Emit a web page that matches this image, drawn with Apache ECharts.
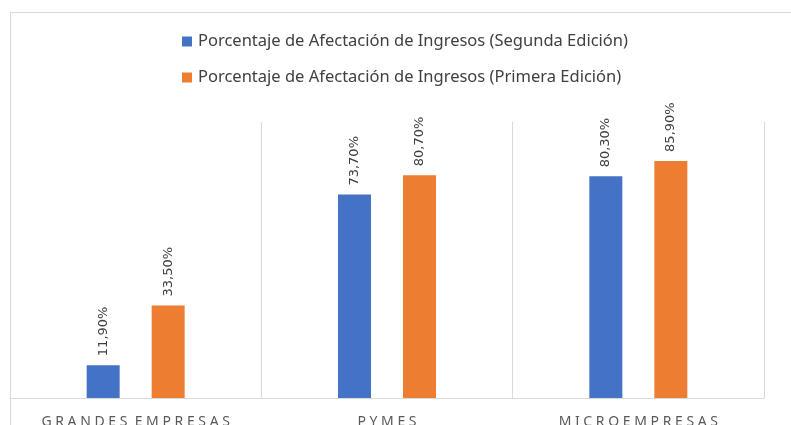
<!DOCTYPE html>
<html>
<head>
<meta charset="utf-8">
<script src="https://cdn.jsdelivr.net/npm/echarts@6/dist/echarts.min.js"></script>
<style>
  html, body { margin: 0; padding: 0; background: #fff; }
  #chart { width: 791px; height: 425px; }
</style>
</head>
<body>
<div id="chart"></div>
<script>
const categories = ['GRANDES EMPRESAS', 'PYMES', 'MICROEMPRESAS'];
const seriesNames = [
    'Porcentaje de Afectación de Ingresos (Segunda Edición)',
    'Porcentaje de Afectación de Ingresos (Primera Edición)'
];
const segundaEdicion = [11.9, 73.7, 80.3];
const primeraEdicion = [33.5, 80.7, 85.9];

const fmtPct = v => v.toFixed(2).replace('.', ',') + '%';
// wide letter spacing like the original axis labels
const spaced = s => s.split(' ').map(w => w.split('').join(' ')).join('  ');

const barLabel = {
    show: true,
    position: 'top',
    rotate: 90,
    align: 'left',
    verticalAlign: 'middle',
    distance: 9,
    color: '#404040',
    fontFamily: 'DejaVu Sans',
    fontSize: 13,
    formatter: p => fmtPct(p.value)
};

const chart = echarts.init(document.getElementById('chart'));
chart.setOption({
    animation: false,
    graphic: [{
        type: 'rect',
        z: -1,
        shape: {x: 10.5, y: 12.5, width: 900, height: 600},
        style: {fill: 'none', stroke: '#d9d9d9', lineWidth: 1}
    }],
    legend: {
        orient: 'vertical',
        left: 182,
        top: 33,
        padding: 0,
        itemWidth: 10,
        itemHeight: 10,
        itemGap: 19,
        icon: 'rect',
        textStyle: {color: '#404040', fontFamily: 'Noto Sans', fontSize: 16.5, padding: [0, 0, 0, 1]},
        data: seriesNames
    },
    grid: {left: 10, right: 27, top: 122, bottom: 27, containLabel: false, outerBoundsMode: 'none'},
    xAxis: {
        type: 'category',
        data: categories,
        axisTick: {show: false},
        axisLine: {lineStyle: {color: '#d9d9d9'}},
        splitLine: {show: true, lineStyle: {color: '#d9d9d9'}},
        axisLabel: {
            color: '#595959',
            fontFamily: 'Noto Sans',
            fontSize: 14,
            margin: 17,
            formatter: v => spaced(v)
        }
    },
    yAxis: {
        type: 'value',
        min: 0,
        max: 100,
        show: false,
        splitLine: {show: false}
    },
    series: [{
        name: seriesNames[0],
        type: 'bar',
        data: segundaEdicion,
        barWidth: 33,
        barGap: '97%',
        itemStyle: {color: '#4472C4'},
        label: barLabel
    }, {
        name: seriesNames[1],
        type: 'bar',
        data: primeraEdicion,
        barWidth: 33,
        itemStyle: {color: '#ED7D31'},
        label: barLabel
    }]
});
</script>
</body>
</html>
